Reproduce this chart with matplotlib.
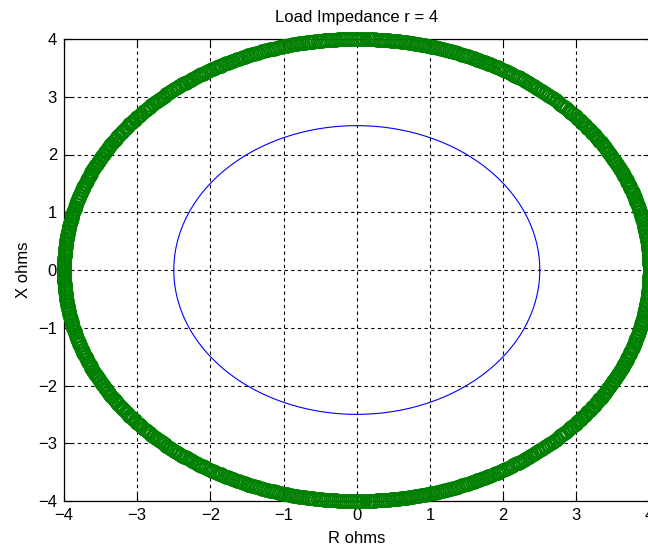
import numpy as np
import matplotlib
matplotlib.use("Agg")
import matplotlib.pyplot as plt

plt.rcParams['font.family'] = ['Liberation Sans', 'DejaVu Sans']

# chart data
load_r = 4.0          # radius of the load impedance locus (green markers)
inner_r = 2.5         # radius of the inner circle (blue line)
n_pts = 900           # samples on the green locus
ticks = [-4, -3, -2, -1, 0, 1, 2, 3, 4]
title = "Load Impedance r = 4"
xlabel = "R ohms"
ylabel = "X ohms"

# green locus: points around the circle of radius load_r
t = np.linspace(0, 2 * np.pi, n_pts)
green_x = load_r * np.cos(t)
green_y = load_r * np.sin(t)

th = np.linspace(0, 2 * np.pi, 400)
blue_x = inner_r * np.cos(th)
blue_y = inner_r * np.sin(th)

fig = plt.figure(figsize=(6.48, 5.5), dpi=100)
ax = fig.add_axes([64 / 648, 1 - 501 / 550, 585.6 / 648, 462 / 550])

ax.plot(green_x, green_y, 'o', color=(0, 0.5, 0), markerfacecolor='none',
        markersize=9.5, markeredgewidth=1.1, clip_on=False, zorder=3)
ax.plot(blue_x, blue_y, '-', color='blue', linewidth=0.8, zorder=3)

ax.set_xlim(-4, 4)
ax.set_ylim(-4, 4)
ax.set_xticks(ticks)
ax.set_yticks(ticks)
ax.tick_params(direction='in', length=5, top=True, right=True, labelsize=12,
               width=0.8, pad=5)
ax.grid(True, color='black', linestyle=(0, (3, 3)), linewidth=0.8)
ax.set_axisbelow(True)
for s in ax.spines.values():
    s.set_linewidth(0.9)

ax.set_title(title, fontsize=12, pad=12)
ax.set_xlabel(xlabel, fontsize=12, labelpad=6)
ax.set_ylabel(ylabel, fontsize=12, labelpad=5)

fig.savefig("out.png", dpi=100)
